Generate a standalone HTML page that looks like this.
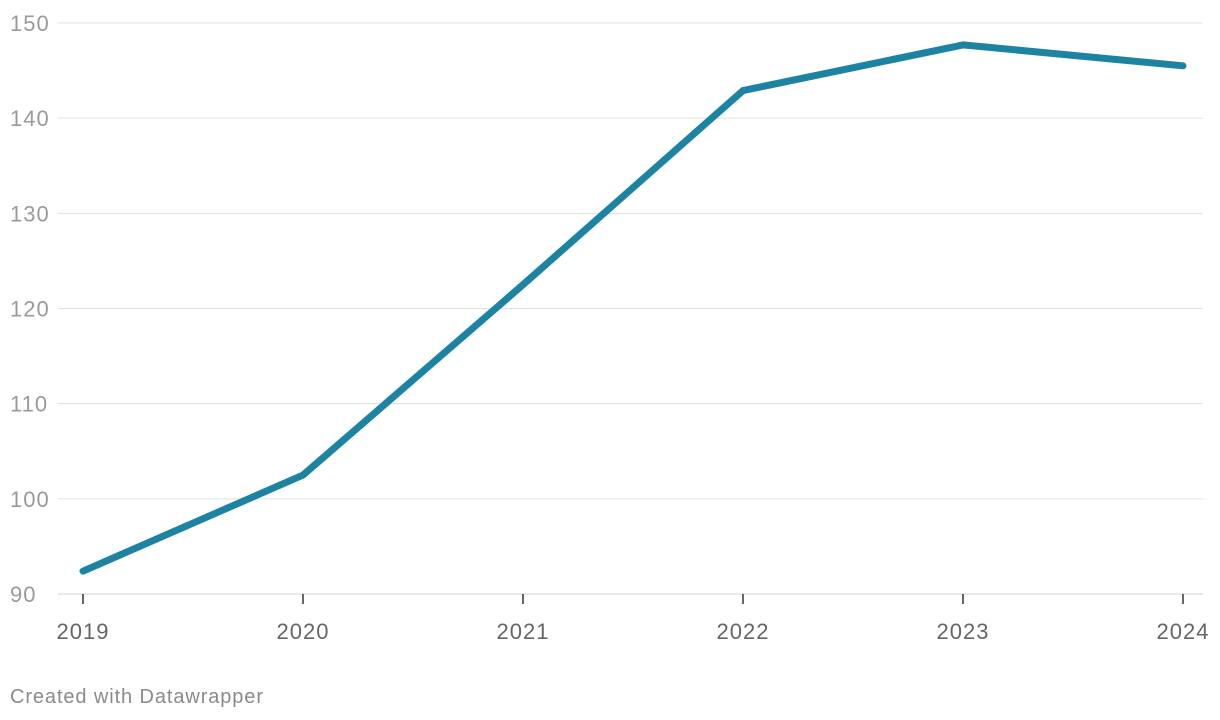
<!DOCTYPE html>
<html><head><meta charset="utf-8"><style>
html,body{margin:0;padding:0;background:#fff;width:1220px;height:720px;overflow:hidden}
svg text{font-family:"Liberation Sans",sans-serif}
</style></head><body>
<svg width="1220" height="720">
<g id="grid"></g><g id="xaxis"></g><g id="series"></g>
<text x="10" y="703" font-size="20" fill="#8a8a8a" textLength="253" lengthAdjust="spacing">Created with Datawrapper</text>
</svg>
<script>
const years = ["2019","2020","2021","2022","2023","2024"];
const values = [92.4, 102.5, 122.5, 142.9, 147.7, 145.5];
const yTicks = [90,100,110,120,130,140,150];
const NS="http://www.w3.org/2000/svg";
const x = i => 83 + i*220;
const y = v => 594 - (v-90)*(571/60);
function mk(t,a,p){const e=document.createElementNS(NS,t);for(const k in a)e.setAttribute(k,a[k]);p.appendChild(e);return e;}
const g=document.getElementById('grid'),xa=document.getElementById('xaxis'),s=document.getElementById('series');
yTicks.forEach(t=>{
  const l=mk('line',{x1:58,x2:1203,y1:y(t),y2:y(t),stroke:t===90?'#d0d0d0':'#e0e0e0','stroke-width':1},g);
  
  
  const tx=mk('text',{x:10,y:y(t)+8,'font-size':22,'letter-spacing':'1',fill:'#9a9a9a'},g);tx.textContent=t;
  
  
});
years.forEach((yr,i)=>{
  const tk=mk('line',{x1:x(i),x2:x(i),y1:594,y2:604,stroke:'#333','stroke-width':1.5},xa);
  
  
  const tx=mk('text',{x:x(i),y:639,'font-size':22,'letter-spacing':'1',fill:'#666','text-anchor':'middle'},xa);tx.textContent=yr;
  
  
});
const p=mk('polyline',{points:values.map((v,i)=>x(i)+','+y(v)).join(' '),fill:'none',stroke:'#1d83a3','stroke-width':7,'stroke-linejoin':'round','stroke-linecap':'round'},s);


</script>
</body></html>
